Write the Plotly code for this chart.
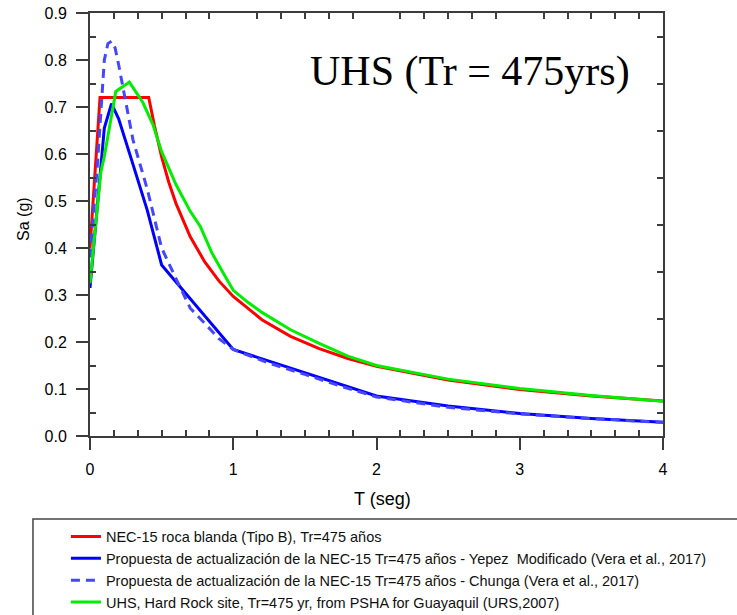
import plotly.graph_objects as go

# ---- data ----
red_T = [0, 0.07, 0.41, 0.45, 0.5, 0.55, 0.6, 0.7, 0.8, 0.9, 1.0, 1.2, 1.4, 1.6, 1.8, 2.0, 2.5, 3.0, 3.5, 4.0]
red_Sa = [0.40, 0.72, 0.72, 0.66, 0.594, 0.54, 0.495, 0.424, 0.371, 0.33, 0.297, 0.2475, 0.212, 0.186, 0.165, 0.1485, 0.119, 0.099, 0.085, 0.0743]

blue_T = [0, 0.1, 0.15, 0.2, 0.3, 0.4, 0.5, 1.0, 2.0, 2.5, 3.0, 3.5, 4.0]
blue_Sa = [0.315, 0.655, 0.707, 0.675, 0.578, 0.48, 0.364, 0.184, 0.085, 0.064, 0.048, 0.037, 0.029]

chunga_T = [0, 0.05, 0.1, 0.125, 0.15, 0.175, 0.2, 0.25, 0.3, 0.4, 0.5, 0.6, 0.7, 0.8, 0.9, 1.0, 1.25, 1.5, 1.75, 2.0, 2.5, 3.0, 3.5, 4.0]
chunga_Sa = [0.38, 0.57, 0.80, 0.835, 0.84, 0.826, 0.79, 0.71, 0.63, 0.525, 0.40, 0.335, 0.272, 0.24, 0.207, 0.184, 0.155, 0.131, 0.106, 0.083, 0.061, 0.047, 0.037, 0.029]

green_T = [0, 0.025, 0.075, 0.1, 0.18, 0.275, 0.37, 0.44, 0.5, 0.6, 0.7, 0.77, 0.85, 0.95, 1.0, 1.1, 1.2, 1.4, 1.6, 1.8, 2.0, 2.5, 3.0, 3.5, 4.0]
green_Sa = [0.325, 0.40, 0.56, 0.595, 0.733, 0.753, 0.709, 0.662, 0.605, 0.535, 0.478, 0.446, 0.39, 0.336, 0.31, 0.285, 0.263, 0.226, 0.197, 0.170, 0.150, 0.121, 0.101, 0.086, 0.074]

series_names = [
    "NEC-15 roca blanda (Tipo B), Tr=475 años",
    "Propuesta de actualización de la NEC-15 Tr=475 años - Yepez  Modificado (Vera et al., 2017)",
    "Propuesta de actualización de la NEC-15 Tr=475 años - Chunga (Vera et al., 2017)",
    "UHS, Hard Rock site, Tr=475 yr, from PSHA for Guayaquil (URS,2007)",
]

x_range = [0, 4]
y_range = [0, 0.9]
x_major_step = 1
y_major_step = 0.1
x_minor = [k / 6 for k in range(1, 24) if k % 6 != 0]       # minor ticks every 1/6 s
y_minor = [round(0.05 + 0.1 * k, 2) for k in range(9)]      # minor ticks at 0.05, 0.15, ...

title_text = "UHS (Tr = 475yrs)"

AX = "#3c3c3c"
FONT = "Arial, Liberation Sans, sans-serif"

fig = go.Figure()
fig.add_trace(go.Scatter(x=red_T, y=red_Sa, mode="lines", name=series_names[0],
                         line=dict(color="#ff0000", width=3)))
fig.add_trace(go.Scatter(x=blue_T, y=blue_Sa, mode="lines", name=series_names[1],
                         line=dict(color="#0000ff", width=3)))
fig.add_trace(go.Scatter(x=chunga_T, y=chunga_Sa, mode="lines", name=series_names[2],
                         line=dict(color="#4646ff", width=3, dash="9px,6px")))
fig.add_trace(go.Scatter(x=green_T, y=green_Sa, mode="lines", name=series_names[3],
                         line=dict(color="#00ee00", width=3)))
# empty traces registering the helper axes that carry the inside (minor) ticks
fig.add_trace(go.Scatter(x=[None], y=[None], xaxis="x2", yaxis="y2", showlegend=False,
                         hoverinfo="skip", mode="lines"))
fig.add_trace(go.Scatter(x=[None], y=[None], xaxis="x3", yaxis="y3", showlegend=False,
                         hoverinfo="skip", mode="lines"))

minor_style = dict(showticklabels=False, ticks="inside", ticklen=6, tickwidth=1.5, tickcolor=AX,
                   showgrid=False, zeroline=False, showline=True, linecolor=AX, linewidth=2)

fig.update_layout(
    width=737, height=615,
    margin=dict(l=90, r=74, t=13, b=179, autoexpand=False),
    paper_bgcolor="white", plot_bgcolor="white",
    font=dict(family=FONT, color="black"),
    xaxis=dict(range=x_range, tickmode="linear", tick0=0, dtick=x_major_step,
               showgrid=False, zeroline=False, showline=True, linecolor=AX, linewidth=2,
               ticks="outside", ticklen=12, tickwidth=1.5, tickcolor=AX,
               tickfont=dict(size=16, family=FONT), ticklabelstandoff=6),
    yaxis=dict(range=y_range, tickmode="linear", tick0=0, dtick=y_major_step, tickformat=".1f",
               showgrid=False, zeroline=False, showline=True, linecolor=AX, linewidth=2,
               ticks="outside", ticklen=12, tickwidth=1.5, tickcolor=AX,
               tickfont=dict(size=16, family=FONT), ticklabelstandoff=6),
    xaxis2=dict(range=x_range, overlaying="x", side="top", anchor="y2",
                tickmode="array", tickvals=x_minor, **minor_style),
    yaxis2=dict(range=y_range, overlaying="y", side="right", anchor="x2",
                tickmode="array", tickvals=y_minor, **minor_style),
    xaxis3=dict(range=x_range, overlaying="x", side="bottom", anchor="y3",
                tickmode="array", tickvals=x_minor, **minor_style),
    yaxis3=dict(range=y_range, overlaying="y", side="left", anchor="x3",
                tickmode="array", tickvals=y_minor, **minor_style),
    showlegend=True,
    legend=dict(x=-0.042, y=-0.200, xanchor="left", yanchor="top",
                bgcolor="rgba(0,0,0,0)", borderwidth=0,
                font=dict(size=14.5, family=FONT, color="#111111"),
                tracegroupgap=0),
    shapes=[dict(type="rect", xref="paper", yref="paper",
                 x0=-0.0995, x1=1.3, y0=-0.196, y1=-0.6,
                 line=dict(color="#444444", width=1.5), fillcolor="rgba(0,0,0,0)")],
    annotations=[
        dict(text=title_text, xref="paper", yref="paper", x=0.663, y=0.862,
             xanchor="center", yanchor="middle", showarrow=False,
             font=dict(family="Times New Roman, Liberation Serif, serif", size=42, color="black")),
        dict(text="Sa (g)", xref="paper", yref="paper", x=-0.117, y=0.513, textangle=-90,
             xanchor="center", yanchor="middle", showarrow=False,
             font=dict(family=FONT, size=16, color="black")),
        dict(text="T (seg)", xref="paper", yref="paper", x=0.51, y=-0.149,
             xanchor="center", yanchor="middle", showarrow=False,
             font=dict(family=FONT, size=18, color="black")),
    ],
)

fig.write_html("out.html")
